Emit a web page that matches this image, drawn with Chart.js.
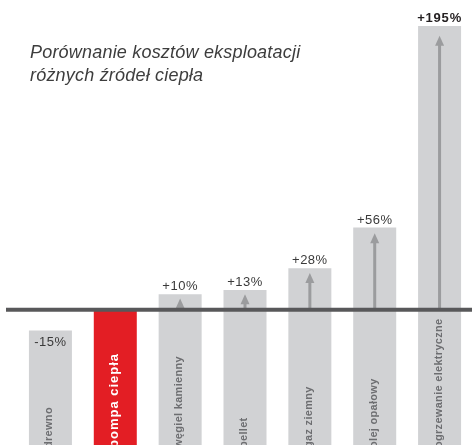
<!DOCTYPE html>
<html>
<head>
<meta charset="utf-8">
<script src="https://cdn.jsdelivr.net/npm/chart.js@4"></script>
<style>
  html, body { margin: 0; padding: 0; background: #fff; }
  #wrap { width: 472px; height: 445px; }
</style>
</head>
<body>
<div id="wrap"><canvas id="costChart" width="472" height="445"></canvas></div>
<script>
// dane
const categories = ['drewno', 'pompa ciepła', 'węgiel kamienny', 'pellet', 'gaz ziemny', 'olej opałowy', 'ogrzewanie elektryczne'];
const costChange = [-15, 0, 10, 13, 28, 56, 195];
const valueLabels = ['-15%', '', '+10%', '+13%', '+28%', '+56%', '+195%'];
const titleLines = ['Porównanie kosztów eksploatacji', 'różnych źródeł ciepła'];

const Y_MIN = -94;
const Y_MAX = 213;
const GREY = '#d1d2d4';
const RED = '#e31e24';

// slupki "plywajace" od dolu wykresu do wartosci
const barData = costChange.map(v => [Y_MIN, v]);
const barColors = categories.map((c, i) => i === 1 ? RED : GREY);

const decorPlugin = {
    id: 'decor',
    afterDatasetsDraw(chart) {
        const ctx = chart.ctx;
        const y = chart.scales.y;
        const meta = chart.getDatasetMeta(0);
        const zeroY = y.getPixelForValue(0);

        ctx.save();
        // strzalki w slupkach dodatnich
        ctx.fillStyle = '#9b9c9e';
        meta.data.forEach((bar, i) => {
            const v = costChange[i];
            if (v <= 0) return;
            const top = y.getPixelForValue(v);
            const h = zeroY - top;
            const tip = top + 4 + h * 0.02;
            ctx.fillRect(bar.x - 1.5, tip + 8, 3, zeroY - tip - 8);
            ctx.beginPath();
            ctx.moveTo(bar.x, tip);
            ctx.lineTo(bar.x + 4.5, tip + 10);
            ctx.lineTo(bar.x - 4.5, tip + 10);
            ctx.closePath();
            ctx.fill();
        });

        // linia zero
        ctx.fillStyle = '#58585a';
        ctx.fillRect(6, zeroY - 1, chart.width - 6, 4);

        // etykiety wartosci
        ctx.textAlign = 'center';
        meta.data.forEach((bar, i) => {
            const txt = valueLabels[i];
            if (!txt) return;
            const v = costChange[i];
            const py = y.getPixelForValue(v);
            if (i === categories.length - 1) {
                ctx.font = 'bold 13px "Liberation Sans", Arial, sans-serif';
                ctx.fillStyle = '#231f20';
                ctx.letterSpacing = '0.8px';
            } else {
                ctx.font = '13px "Liberation Sans", Arial, sans-serif';
                ctx.fillStyle = '#3a3a3a';
                ctx.letterSpacing = '0.5px';
            }
            if (v < 0) {
                ctx.textBaseline = 'top';
                ctx.fillText(txt, bar.x, py + 5);
            } else {
                ctx.textBaseline = 'alphabetic';
                ctx.fillText(txt, bar.x, py - 4);
            }
        });

        // nazwy kategorii (pionowo)
        ctx.textAlign = 'left';
        ctx.textBaseline = 'middle';
        meta.data.forEach((bar, i) => {
            ctx.save();
            ctx.translate(bar.x - 1, chart.height + 3);
            ctx.rotate(-Math.PI / 2);
            if (i === 1) {
                ctx.font = 'bold 13px "Liberation Sans", Arial, sans-serif';
                ctx.fillStyle = '#ffffff';
                ctx.letterSpacing = '1px';
            } else {
                ctx.font = 'bold 11px "Liberation Sans", Arial, sans-serif';
                ctx.fillStyle = '#6d6e71';
                ctx.letterSpacing = '0.3px';
            }
            ctx.fillText(categories[i], 0, 0);
            ctx.restore();
        });

        // tytul
        ctx.letterSpacing = '0.2px';
        ctx.font = 'italic 18px "Liberation Sans", Arial, sans-serif';
        ctx.fillStyle = '#3d3d3d';
        ctx.textAlign = 'left';
        ctx.textBaseline = 'alphabetic';
        ctx.fillText(titleLines[0], 30, 58);
        ctx.fillText(titleLines[1], 30, 81);
        ctx.restore();
    }
};

new Chart(document.getElementById('costChart'), {
    type: 'bar',
    data: {
        labels: categories,
        datasets: [{
            data: barData,
            backgroundColor: barColors,
            borderWidth: 0,
            borderSkipped: false,
            barPercentage: 0.663,
            categoryPercentage: 1
        }]
    },
    options: {
        responsive: false,
        animation: false,
        devicePixelRatio: 1,
        layout: { padding: { left: 18, right: 0, top: 0, bottom: 0 } },
        scales: {
            x: { display: false },
            y: { display: false, min: Y_MIN, max: Y_MAX }
        },
        plugins: {
            legend: { display: false },
            tooltip: { enabled: false },
            title: { display: false }
        }
    },
    plugins: [decorPlugin]
});
</script>
</body>
</html>
